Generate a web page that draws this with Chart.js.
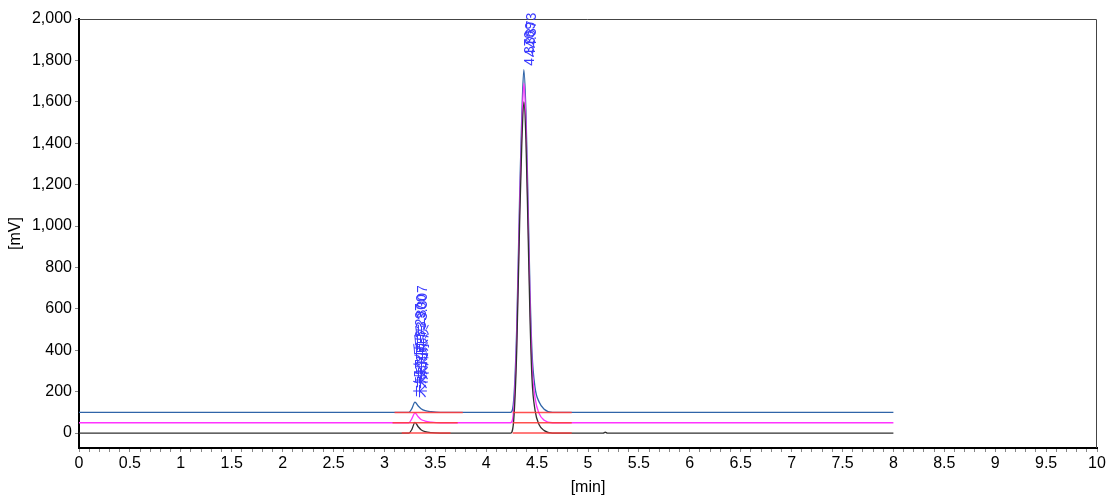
<!DOCTYPE html>
<html lang="zh">
<head>
<meta charset="UTF-8">
<title>Chromatogram</title>
<style>
    body { margin: 0; padding: 0; background: #fff; }
    .wrap { width: 1118px; height: 501px; position: relative; }
</style>
</head>
<body>
<div class="wrap"><canvas id="chrom"></canvas></div>

<script src="https://cdn.jsdelivr.net/npm/chart.js"></script>
<script>
// retention time points [min], shared by the three traces
const times = [0, 3.08, 3.17, 3.24, 3.27, 3.30, 3.33, 3.36, 3.40, 3.46, 3.55,
    4.24, 4.27, 4.30, 4.33, 4.35, 4.37, 4.39, 4.41, 4.43, 4.45, 4.48, 4.52, 4.57, 4.65,
    5.15, 5.17, 5.19, 8.0];

// signal [mV] of each injection (offset traces)
const blackTrace = [0, 0, 0, 0, 18, 52, 32, 16, 7, 2, 0,
    0, 60, 400, 1050, 1400, 1600, 1420, 1000, 560, 260, 110, 40, 12, 0,
    0, 4, 0, 0];
const magentaTrace = [50, 50, 50, 50, 70, 98, 80, 66, 58, 53, 50,
    50, 110, 460, 1120, 1470, 1690, 1500, 1080, 640, 330, 170, 95, 62, 50,
    50, 50, 50, 50];
const blueTrace = [100, 100, 100, 100, 118, 150, 132, 118, 108, 103, 100,
    100, 160, 510, 1180, 1540, 1755, 1560, 1140, 700, 390, 220, 150, 115, 100,
    100, 100, 100, 100];

// integration baselines (start, end, level)
const baseStart = [3.17, 4.26, 3.08, 4.26, 3.10, 4.26];
const baseEnd   = [3.65, 4.84, 3.72, 4.84, 3.77, 4.84];
const baseLevel = [0, 0, 50, 50, 100, 100];

// peak annotations
const peakTimes = [3.30, 4.37];
const peakTops = [150, 1755];
const peakTexts = [
    ['未知杂质 3.297', '未知杂质 3.300', '未知杂质 3.307'],
    ['4.370', '4.369', '4.373']
];

const yTicks = [0, 200, 400, 600, 800, 1000, 1200, 1400, 1600, 1800, 2000];

function toPoints(ys) {
    return times.map((t, i) => ({ x: t, y: ys[i] }));
}

const datasets = [];
for (let i = 0; i < baseStart.length; i++) {
    datasets.push({
        data: [{ x: baseStart[i], y: baseLevel[i] }, { x: baseEnd[i], y: baseLevel[i] }],
        borderColor: 'rgba(255, 60, 60, 0.9)',
        borderWidth: 1.5,
        pointRadius: 0,
        order: 0
    });
}
datasets.push(
    { data: toPoints(blueTrace), borderColor: '#2f64a8', borderWidth: 1.3, pointRadius: 0, cubicInterpolationMode: 'monotone', order: 3 },
    { data: toPoints(magentaTrace), borderColor: '#ff33ff', borderWidth: 1.3, pointRadius: 0, cubicInterpolationMode: 'monotone', order: 2 },
    { data: toPoints(blackTrace), borderColor: '#303030', borderWidth: 1.3, pointRadius: 0, cubicInterpolationMode: 'monotone', order: 1 }
);

// frame + peak labels
const extras = {
    id: 'extras',
    afterDatasetsDraw(chart) {
        const { ctx, chartArea: a, scales } = chart;
        ctx.save();
        ctx.strokeStyle = '#444';
        ctx.lineWidth = 1;
        ctx.beginPath();
        ctx.moveTo(a.left, a.top + 0.5);
        ctx.lineTo(a.right - 0.5, a.top + 0.5);
        ctx.lineTo(a.right - 0.5, a.bottom);
        ctx.stroke();

        // rotated labels sit just right of the peak apex
        ctx.fillStyle = '#3a3aff';
        ctx.font = '14px "Liberation Sans", "Noto Sans CJK SC", sans-serif';
        ctx.textBaseline = 'top';
        ctx.textAlign = 'left';
        peakTimes.forEach((t, i) => {
            const px = scales.x.getPixelForValue(t);
            const py = scales.y.getPixelForValue(peakTops[i]) - 4;
            peakTexts[i].forEach((txt, k) => {
                ctx.save();
                ctx.translate(px - 1 + k, py - k * 9);
                ctx.rotate(-Math.PI / 2);
                ctx.fillText(txt, 0, 0);
                ctx.restore();
            });
        });
        ctx.restore();
    }
};

new Chart(document.getElementById('chrom'), {
    type: 'line',
    data: { datasets: datasets },
    options: {
        responsive: true,
        maintainAspectRatio: false,
        animation: false,
        layout: { padding: { top: 19, right: 21, left: 6, bottom: 0 } },
        plugins: { legend: { display: false }, tooltip: { enabled: false } },
        scales: {
            x: {
                type: 'linear',
                min: 0,
                max: 10,
                afterFit(s) { s.height = 53; },
                border: { color: '#000', width: 2 },
                grid: { drawOnChartArea: false, tickLength: 4, color: '#888' },
                ticks: {
                    stepSize: 0.1,
                    maxTicksLimit: 200,
                    autoSkip: false,
                    maxRotation: 0,
                    padding: 2,
                    color: '#000',
                    font: { family: '"Liberation Sans", Arial, sans-serif', size: 16 },
                    callback(v) {
                        const h = Math.round(v * 2);
                        return Math.abs(v * 2 - h) < 1e-6 ? String(h / 2) : '';
                    }
                },
                title: {
                    display: true,
                    text: '[min]',
                    color: '#000',
                    padding: { top: 0, bottom: 4 },
                    font: { family: '"Liberation Sans", Arial, sans-serif', size: 16 }
                }
            },
            y: {
                min: -72,
                max: 2000,
                afterFit(s) { s.width = 73; },
                afterBuildTicks(s) { s.ticks = yTicks.map(v => ({ value: v })); },
                border: { color: '#000', width: 2 },
                grid: { drawOnChartArea: false, tickLength: 4, color: '#888' },
                ticks: {
                    padding: 3,
                    color: '#000',
                    font: { family: '"Liberation Sans", Arial, sans-serif', size: 16 },
                    callback(v) { return v.toLocaleString('en-US'); }
                },
                title: {
                    display: true,
                    text: '[mV]',
                    color: '#000',
                    padding: { top: 0, bottom: 0 },
                    font: { family: '"Liberation Sans", Arial, sans-serif', size: 16 }
                }
            }
        }
    },
    plugins: [extras]
});
</script>
</body>
</html>
